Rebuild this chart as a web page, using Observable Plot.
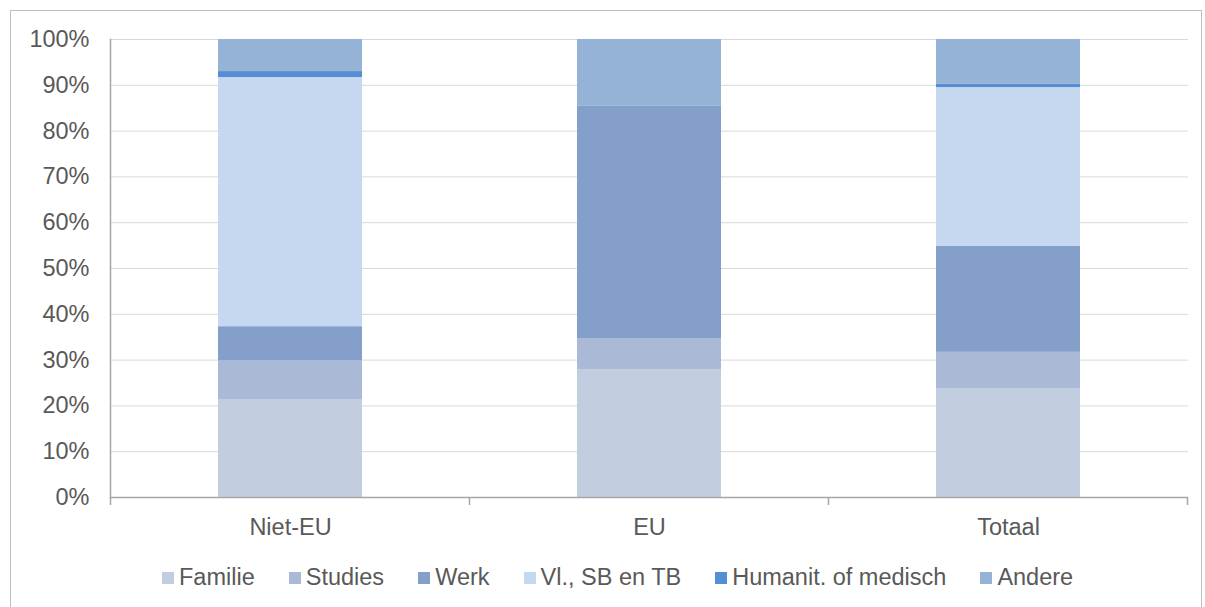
<!DOCTYPE html>
<html>
<head>
<meta charset="utf-8">
<script src="https://cdn.jsdelivr.net/npm/d3@7"></script>
<script src="https://cdn.jsdelivr.net/npm/@observablehq/plot@0.6"></script>
<style>
  html, body { margin: 0; padding: 0; background: #fff; }
  body { width: 1205px; height: 607px; position: relative; overflow: hidden; font-family: "Liberation Sans", Arial, sans-serif; }
  #frame { position: absolute; left: 10px; top: 10px; width: 1192px; height: 640px; border: 1px solid #bfbfbf; box-sizing: border-box; }
  #chart { position: absolute; left: 0; top: 0; }
  #legend { position: absolute; left: 162px; top: 564px; display: flex; align-items: center; font-size: 23.5px; color: #595959; white-space: nowrap; }
  #legend .item { display: flex; align-items: center; margin-right: 34px; }
  #legend .sw { width: 12px; height: 12px; margin-right: 5px; }
</style>
</head>
<body>
<div id="frame"></div>
<div id="chart"></div>
<div id="legend"></div>
<script>
const categories = ["Niet-EU", "EU", "Totaal"];
const series = ["Familie", "Studies", "Werk", "Vl., SB en TB", "Humanit. of medisch", "Andere"];
const colors = ["#C3CDE0", "#AAB9D6", "#84A0CA", "#C6D8EF", "#558ED5", "#95B3D7"];
// shares per category (fractions), one array per series, in category order
const familie  = [0.214, 0.279, 0.238];
const studies  = [0.085, 0.068, 0.079];
const werk     = [0.074, 0.507, 0.231];
const vlSbTb   = [0.544, 0.000, 0.347];
const humanit  = [0.013, 0.000, 0.007];
const andere   = [0.070, 0.146, 0.098];
const yTicks = [0, 0.1, 0.2, 0.3, 0.4, 0.5, 0.6, 0.7, 0.8, 0.9, 1.0];

const seriesValues = [familie, studies, werk, vlSbTb, humanit, andere];
const data = [];
series.forEach((s, i) => categories.forEach((c, j) => data.push({category: c, series: s, value: seriesValues[i][j]})));

const textColor = "#595959";
const fs = 23.5;
const chart = Plot.plot({
  width: 1205,
  height: 545,
  marginLeft: 110,
  marginRight: 17,
  marginTop: 39,
  marginBottom: 48,
  style: {fontFamily: "'Liberation Sans', Arial, sans-serif", fontSize: fs + "px", color: textColor, background: "transparent", overflow: "visible"},
  x: {domain: categories, paddingInner: 0.6, paddingOuter: 0.3, label: null},
  y: {domain: [0, 1], label: null},
  color: {domain: series, range: colors},
  marks: [
    Plot.ruleY(yTicks.slice(1), {stroke: "#d9d9d9", strokeWidth: 1}),
    Plot.barY(data, {x: "category", y: "value", fill: "series", order: series, inset: 0}),
    Plot.ruleY([0], {stroke: "#a6a6a6", strokeWidth: 1.5}),
    Plot.frame({anchor: "left", stroke: "#a6a6a6", strokeWidth: 1.5}),
    Plot.axisY({ticks: yTicks, tickFormat: d => Math.round(d * 100) + "%", tickSize: 0, tickPadding: 21, fontSize: fs, fill: textColor}),
    Plot.axisX({tickSize: 0, tickPadding: 21, fontSize: fs, fill: textColor})
  ]
});
document.getElementById("chart").appendChild(chart);

// tick marks at the band boundaries of the category axis
const sx = chart.scale("x");
const sy = chart.scale("y");
const y0 = sy.apply(0);
const step = sx.step;
const gap = (step - sx.bandwidth) / 2;
const edges = categories.map(c => sx.apply(c) - gap);
edges.push(sx.apply(categories[categories.length - 1]) + sx.bandwidth + gap);
d3.select(chart).append("g")
  .selectAll("line").data(edges).join("line")
  .attr("x1", d => d).attr("x2", d => d)
  .attr("y1", y0).attr("y2", y0 + 8)
  .attr("stroke", "#a6a6a6").attr("stroke-width", 1.5);

// legend
const legend = d3.select("#legend");
series.forEach((s, i) => {
  const it = legend.append("div").attr("class", "item");
  it.append("div").attr("class", "sw").style("background", colors[i]);
  it.append("span").text(s);
});
</script>
</body>
</html>
